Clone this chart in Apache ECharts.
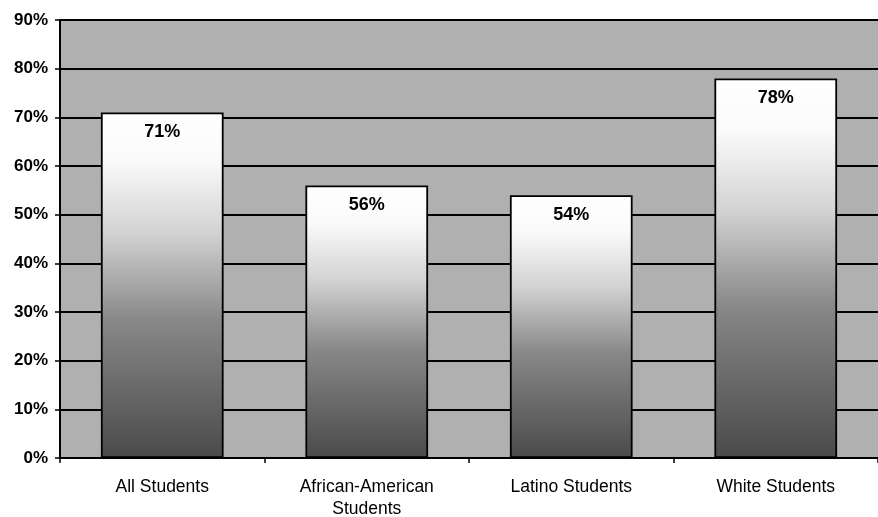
<!DOCTYPE html>
<html>
<head>
<meta charset="utf-8">
<script src="https://cdn.jsdelivr.net/npm/echarts@6/dist/echarts.min.js"></script>
<style>
  html, body { margin: 0; padding: 0; background: #fff; }
  #chart { width: 878px; height: 517px; }
</style>
</head>
<body>
<div id="chart"></div>
<script>
const categories = ['All Students', 'African-American\nStudents', 'Latino Students', 'White Students']
const values = [71, 56, 54, 78]
const yTicks = [0, 10, 20, 30, 40, 50, 60, 70, 80, 90]

const chart = echarts.init(document.getElementById('chart'))

// bar fill: white at the top, fading to dark grey at the base
const barFill = new echarts.graphic.LinearGradient(0, 0, 0, 1, [
  { offset: 0, color: '#ffffff' },
  { offset: 0.14, color: '#fafafa' },
  { offset: 0.35, color: '#d2d2d2' },
  { offset: 0.6, color: '#888888' },
  { offset: 1, color: '#4a4a4a' }
])

chart.setOption({
  animation: false,
  textStyle: { fontFamily: 'Liberation Sans, Arial, sans-serif' },
  grid: {
    left: 60,
    right: 0,
    top: 20,
    bottom: 59,
    containLabel: false,
    outerBoundsMode: 'none',
    show: true,
    backgroundColor: '#b0b0b0',
    borderWidth: 0
  },
  xAxis: {
    type: 'category',
    data: categories,
    axisLine: { lineStyle: { color: '#000', width: 2 } },
    axisTick: { show: true, length: 5, lineStyle: { color: '#000', width: 1.5 } },
    axisLabel: { color: '#000', fontSize: 17.5, margin: 18, lineHeight: 22 },
    splitLine: { show: false }
  },
  yAxis: {
    type: 'value',
    min: yTicks[0],
    max: yTicks[yTicks.length - 1],
    interval: 10,
    axisLine: { show: true, lineStyle: { color: '#000', width: 2 } },
    axisTick: { show: true, length: 5, lineStyle: { color: '#000', width: 1.5 } },
    axisLabel: {
      color: '#000',
      fontSize: 17,
      fontWeight: 'bold',
      margin: 12,
      formatter: v => v + '%'
    },
    splitLine: { show: true, lineStyle: { color: '#000', width: 1.8 } }
  },
  series: [{
    type: 'bar',
    data: values,
    barWidth: '60%',
    itemStyle: {
      color: barFill,
      borderColor: '#000',
      borderWidth: 1.8
    },
    label: {
      show: true,
      position: 'insideTop',
      distance: 11,
      color: '#000',
      fontSize: 18,
      fontWeight: 'bold',
      formatter: p => p.value + '%'
    }
  }]
})
</script>
</body>
</html>
